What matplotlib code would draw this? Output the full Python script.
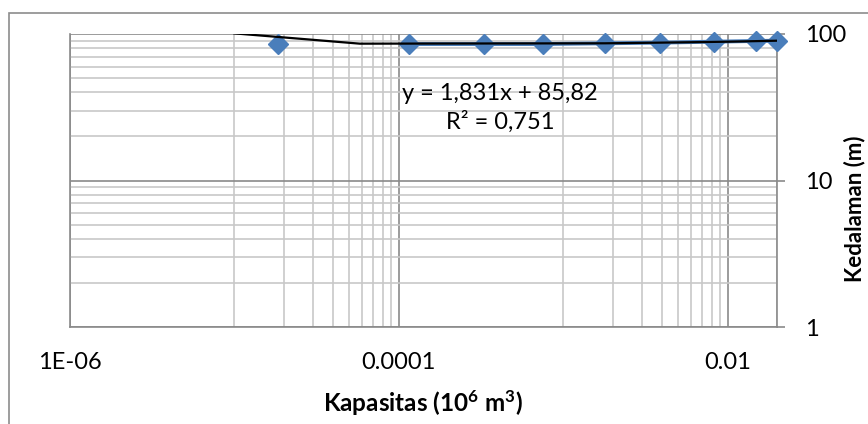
import matplotlib
matplotlib.use('Agg')
import matplotlib.pyplot as plt
from matplotlib.ticker import FixedLocator, FixedFormatter, NullFormatter
from matplotlib.patches import Rectangle

# ---- data ----
kapasitas = [1.84e-5, 1.15e-4, 3.29e-4, 7.51e-4, 1.79e-3, 3.86e-3, 8.22e-3, 1.48e-2, 1.99e-2]
kedalaman = [85.1, 85.4, 85.4, 85.4, 86.4, 87.3, 88.6, 89.6, 90.0]
trend_x = [1.0e-5, 5.8e-5, 1.8e-3, 3.9e-3, 1.0e-2, 2.0e-2]
trend_y = [101.0, 85.9, 86.4, 87.3, 88.6, 90.0]

x_major = [1e-6, 1e-4, 1e-2]
x_labels = ['1E-06', '0.0001', '0.01']
x_minor = [1e-5, 2e-5, 3e-5, 4e-5, 5e-5, 6e-5, 7e-5, 8e-5, 9e-5,
           1e-3, 2e-3, 3e-3, 4e-3, 5e-3, 6e-3, 7e-3, 8e-3, 9e-3, 2e-2]
y_major = [1, 10, 100]
y_labels = ['1', '10', '100']
y_minor = [2, 3, 4, 5, 6, 7, 8, 9, 20, 30, 40, 50, 60, 70, 80, 90]

eq_text = 'y = 1,831x + 85,82'
r2_text = 'R² = 0,751'
xlabel = 'Kapasitas (10$^{6}$ m$^{3}$)'
ylabel = 'Kedalaman (m)'

plt.rcParams['font.family'] = ['Lato', 'DejaVu Sans']
plt.rcParams['mathtext.default'] = 'regular'

W, H = 868, 424
fig = plt.figure(figsize=(W / 100, H / 100), dpi=100)
L, R, T, B = 70, 777, 34, 327
ax = fig.add_axes([L / W, 1 - B / H, (R - L) / W, (B - T) / H])

# outer chart border (cropped at right/bottom)
fig.patches.append(Rectangle((9 / W, -0.1), 1.2, 1 - 13 / H + 0.1,
                             transform=fig.transFigure, fill=False,
                             edgecolor='#8C8C8C', lw=1.2))

ax.set_xscale('log')
ax.set_yscale('log')
ax.set_xlim(1e-6, 2e-2)
ax.set_ylim(1, 100)

ax.xaxis.set_major_locator(FixedLocator(x_major))
ax.xaxis.set_major_formatter(FixedFormatter(x_labels))
ax.xaxis.set_minor_locator(FixedLocator(x_minor))
ax.xaxis.set_minor_formatter(NullFormatter())
ax.yaxis.set_major_locator(FixedLocator(y_major))
ax.yaxis.set_major_formatter(FixedFormatter(y_labels))
ax.yaxis.set_minor_locator(FixedLocator(y_minor))
ax.yaxis.set_minor_formatter(NullFormatter())

ax.set_axisbelow(True)
ax.grid(which='major', color='#8A8A8A', lw=1.2)
ax.grid(which='minor', color='#C8C8C8', lw=1.2)

for s in ['left', 'bottom', 'right']:
    ax.spines[s].set_color('#8A8A8A')
    ax.spines[s].set_linewidth(1.2)
ax.spines['top'].set_visible(False)

ax.yaxis.tick_right()
ax.tick_params(axis='x', which='both', length=0, pad=18, labelsize=17, labelcolor='black')
ax.tick_params(axis='y', which='major', length=6, width=1.2, color='#8A8A8A',
               direction='out', pad=14, labelsize=17)
ax.tick_params(axis='y', which='minor', length=0)

blue = '#4A7EBB'
ax.plot(kapasitas[:1], kedalaman[:1], linestyle='none', marker='D', ms=10.5,
        color=blue, zorder=3, clip_on=False)
ax.plot(kapasitas[1:], kedalaman[1:], color=blue, lw=2.8, marker='D', ms=10.5,
        zorder=3, clip_on=False)
ax.plot(trend_x, trend_y, color='black', lw=1.6, zorder=4)

fig.text(500 / W, 1 - 93 / H, eq_text, ha='center', va='center', fontsize=17)
fig.text(500 / W, 1 - 122 / H, r2_text, ha='center', va='center', fontsize=17)

fig.text(423 / W, 1 - 403 / H, xlabel, ha='center', va='center',
         fontsize=17.5, fontweight='bold')
fig.text(855 / W, 1 - 209 / H, ylabel, ha='center', va='center', rotation=90,
         fontsize=16, fontweight='bold')

fig.savefig('out.png', dpi=100)
